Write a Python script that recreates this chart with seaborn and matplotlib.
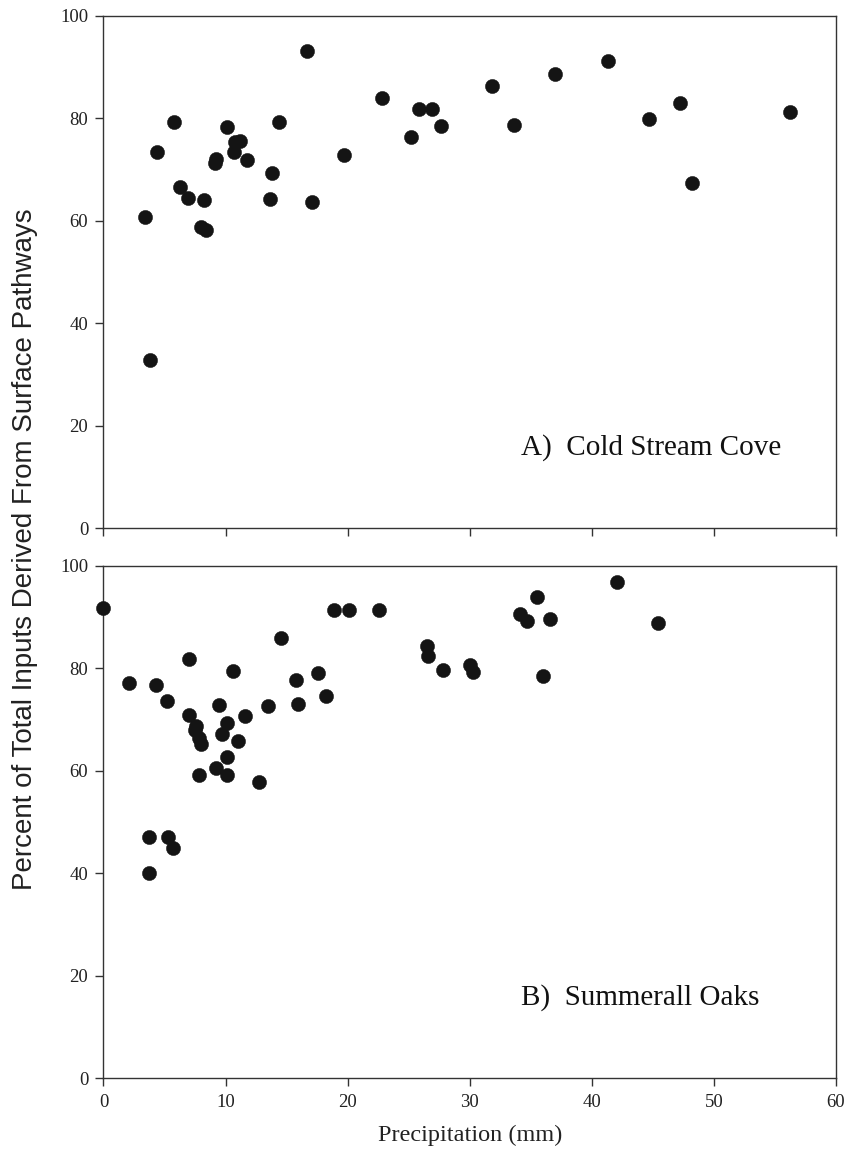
import matplotlib
matplotlib.use("Agg")
import matplotlib.pyplot as plt
import seaborn as sns
import pandas as pd

# Panel A: Cold Stream Cove
cove_precip = [16.7, 22.8, 25.85, 26.9, 27.65, 25.2, 19.7, 5.8, 14.4, 10.1, 4.4,
               10.8, 11.2, 10.7, 9.2, 9.1, 11.75, 13.8, 13.6, 17.1, 6.3, 6.9, 8.2,
               3.4, 8.0, 8.4, 3.8,
               31.85, 37.0, 41.3, 33.6, 44.7, 47.2, 48.2, 56.2]
cove_pct = [93.1, 83.9, 81.8, 81.8, 78.4, 76.3, 72.8, 79.3, 79.2, 78.2, 73.5,
            75.3, 75.6, 73.4, 72.1, 71.3, 71.9, 69.4, 64.2, 63.6, 66.6, 64.5, 64.0,
            60.8, 58.8, 58.2, 32.8,
            86.2, 88.6, 91.2, 78.7, 79.9, 83.0, 67.3, 81.2]

# Panel B: Summerall Oaks
oaks_precip = [0.0, 2.1, 4.3, 5.2, 7.0, 7.0, 7.6, 7.5, 7.8, 7.95, 7.8, 9.2, 9.5,
               10.1, 9.7, 10.1, 10.15, 11.0, 10.6, 11.6, 12.7, 13.5, 14.5, 15.8,
               15.9, 17.6, 18.2, 18.9, 20.1, 22.6, 26.5, 26.6, 27.8, 3.7, 5.25,
               5.7, 3.75,
               42.1, 35.5, 34.1, 34.7, 36.6, 45.4, 30.0, 30.3, 36.0]
oaks_pct = [91.8, 77.1, 76.8, 73.6, 81.8, 70.9, 68.7, 67.9, 66.4, 65.2, 59.1, 60.6,
            72.9, 69.3, 67.1, 62.7, 59.2, 65.8, 79.5, 70.6, 57.8, 72.7, 86.0, 77.8,
            73.1, 79.1, 74.5, 91.4, 91.3, 91.3, 84.4, 82.3, 79.7, 47.1, 47.1,
            45.0, 40.1,
            96.8, 93.9, 90.5, 89.2, 89.7, 88.9, 80.6, 79.2, 78.4]

panel_labels = ["A)  Cold Stream Cove", "B)  Summerall Oaks"]
x_ticks = [0, 10, 20, 30, 40, 50, 60]
y_ticks = [0, 20, 40, 60, 80, 100]

sns.set_theme(style="ticks")
plt.rcParams["font.family"] = ["Liberation Serif", "DejaVu Serif"]

fig = plt.figure(figsize=(8.51, 11.73), dpi=100)
fig.patch.set_facecolor("white")
ax_a = fig.add_axes([0.1216, 0.5496, 0.8608, 0.4370])
ax_b = fig.add_axes([0.1216, 0.0806, 0.8608, 0.4371])

datasets = [
    pd.DataFrame({"precip": cove_precip, "pct": cove_pct}),
    pd.DataFrame({"precip": oaks_precip, "pct": oaks_pct}),
]

for ax, df, lab in zip([ax_a, ax_b], datasets, panel_labels):
    sns.scatterplot(data=df, x="precip", y="pct", ax=ax, s=105, color="#141414",
                    edgecolor="#141414", linewidth=0.3, clip_on=False, zorder=3)
    ax.set_xlim(0, 60)
    ax.set_ylim(0, 100)
    ax.set_xticks(x_ticks)
    ax.set_yticks(y_ticks)
    ax.set_xlabel("")
    ax.set_ylabel("")
    ax.set_facecolor("white")
    for sp in ax.spines.values():
        sp.set_visible(True)
        sp.set_color("#333333")
        sp.set_linewidth(1.0)
    ax.tick_params(axis="both", direction="out", length=6, width=1.0,
                   color="#333333", labelsize=13.5, labelcolor="#222222", pad=5)
    ax.text(34.2, 15.8, lab, fontsize=21, color="#111111", ha="left", va="center")

ax_a.tick_params(axis="x", labelbottom=False)
ax_b.set_xlabel("Precipitation (mm)", fontsize=17.5, color="#222222", labelpad=10)

fig.text(0.029, 0.532, "Percent of Total Inputs Derived From Surface Pathways",
         rotation=90, ha="center", va="center", fontsize=20,
         family=["Liberation Sans", "DejaVu Sans"], color="#222222")

fig.savefig("out.png", dpi=100, facecolor="white")
